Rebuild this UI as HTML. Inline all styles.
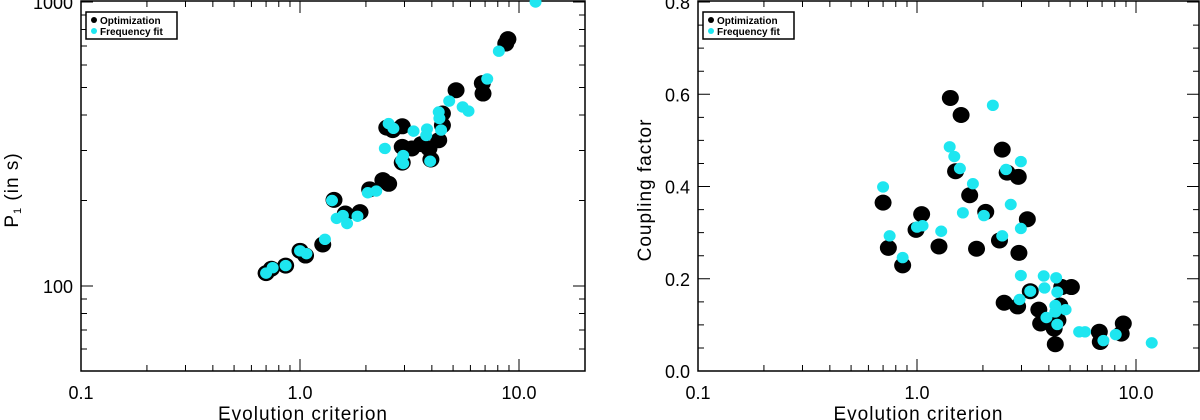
<!DOCTYPE html>
<html><head><meta charset="utf-8"><style>
body{margin:0;background:#fff;}
svg{display:block;font-family:"Liberation Sans",sans-serif;}
</style></head><body>
<svg id="c" width="1200" height="420" viewBox="0 0 1200 420"></svg>
<script>
// Left panel data
const leftOptX=[0.70,0.74,0.86,1.0,1.06,1.27,1.43,1.61,1.88,2.08,2.39,2.54,2.49,2.65,2.93,2.93,2.93,3.24,3.58,3.88,3.96,4.3,4.47,4.47,5.16,6.8,6.85,8.7,8.9];
const leftOptY=[111,115,118,133,128,140,201,180,182,219,236,229,361,354,365,309,272,305,316,305,279,326,368,405,489,518,476,714,740];
const leftFitX=[0.70,0.75,0.86,1.0,1.07,1.30,1.40,1.47,1.57,1.64,1.83,2.04,2.23,2.44,2.54,2.67,2.96,2.96,2.90,3.3,3.8,3.77,3.93,4.3,4.33,4.41,4.8,5.53,5.88,7.16,8.09,11.9];
const leftFitY=[111,116,118,133,130,146,200,173,177,166,176,213,216,305,373,359,288,270,277,351,357,339,275,410,389,354,448,427,413,536,671,1000];
// Right panel data
const rightOptX=[0.70,0.74,0.86,0.99,1.05,1.26,1.42,1.59,1.50,1.74,1.87,2.06,2.38,2.45,2.58,2.90,2.92,3.19,2.50,2.88,3.29,3.6,3.67,3.98,4.23,4.28,4.49,4.40,4.58,5.07,6.8,6.87,8.56,8.75];
const rightOptY=[0.365,0.267,0.229,0.306,0.340,0.270,0.592,0.555,0.433,0.381,0.265,0.345,0.283,0.480,0.430,0.421,0.256,0.329,0.148,0.140,0.173,0.133,0.103,0.106,0.092,0.058,0.142,0.110,0.182,0.182,0.085,0.063,0.081,0.103];
const rightFitX=[0.70,0.75,0.86,1.0,1.06,1.29,1.41,1.48,1.57,1.62,1.80,2.02,2.22,2.45,2.55,2.68,2.98,2.98,2.98,2.94,3.29,3.79,3.82,3.9,4.28,4.32,4.37,4.28,4.37,4.77,5.5,5.85,7.1,8.08,11.8];
const rightFitY=[0.399,0.293,0.246,0.312,0.315,0.303,0.486,0.465,0.439,0.343,0.406,0.337,0.576,0.293,0.437,0.361,0.454,0.309,0.207,0.155,0.173,0.206,0.180,0.116,0.142,0.202,0.171,0.128,0.101,0.133,0.085,0.085,0.066,0.079,0.061];
const xTickLabels=["0.1","1.0","10.0"];
const xTickVals=[0.1,1,10];
const leftYTickVals=[100,1000];
const leftYTickLabels=["100","1000"];
const rightYTickVals=[0,0.2,0.4,0.6,0.8];
const rightYTickLabels=["0.0","0.2","0.4","0.6","0.8"];

const NS="http://www.w3.org/2000/svg";
const svg=document.getElementById('c');
function mk(tag,attrs,parent){const e=document.createElementNS(NS,tag);for(const k in attrs)e.setAttribute(k,attrs[k]);(parent||svg).appendChild(e);return e;}
const L=Math.log10;
const CY='#1ee6f0';

function panel(px0,px1,py0,py1,xScale,yScale,yMinorVals,yMajorVals,yLabels,yTitle,name,optX,optY,fitX,fitY,yTitleX){
  const g=mk('g',{});
  
  
  const ax=mk('rect',{x:px0,y:py0,width:px1-px0,height:py1-py0,fill:'none',stroke:'#000','stroke-width':1.5},g);
  
  
  const xmin=[0.2,0.3,0.4,0.5,0.6,0.7,0.8,0.9,2,3,4,5,6,7,8,9];
  xmin.forEach(v=>{const x=xScale(v);
    const t=mk('path',{d:`M${x},${py1}v-6M${x},${py0}v6`,stroke:'#000','stroke-width':1},g);
    
    });
  xTickVals.forEach((v,i)=>{const x=xScale(v);
    const t=mk('path',{d:`M${x},${py1}v-12M${x},${py0}v12`,stroke:'#000','stroke-width':1},g);
    
    
    const tx=mk('text',{x:x,y:py1+28,'font-size':18,'text-anchor':'middle'},g);tx.textContent=xTickLabels[i];
    
    });
  yMinorVals.forEach(v=>{const y=yScale(v);
    const t=mk('path',{d:`M${px0},${y}h6M${px1},${y}h-6`,stroke:'#000','stroke-width':1},g);
    
    });
  yMajorVals.forEach((v,i)=>{const y=yScale(v);
    const t=mk('path',{d:`M${px0},${y}h12M${px1},${y}h-12`,stroke:'#000','stroke-width':1},g);
    
    
    const tx=mk('text',{x:px0-8,y:y+7,'font-size':18,'text-anchor':'end'},g);tx.textContent=yLabels[i];
    
    });
  const xt=mk('text',{x:(px0+px1)/2-30,y:420,'font-size':19,'text-anchor':'middle','letter-spacing':'1'},g);
  xt.textContent='Evolution criterion';
  
  
  const yt=mk('text',{x:0,y:0,'font-size':19,'text-anchor':'middle','letter-spacing':'1',transform:`translate(${yTitleX},190) rotate(-90)`},g);
  yt.innerHTML=yTitle;
  
  
  optX.forEach((v,i)=>{const c=mk('ellipse',{cx:xScale(v),cy:yScale(optY[i]),rx:8.5,ry:8,fill:'#000'},g);
    
    });
  fitX.forEach((v,i)=>{const c=mk('ellipse',{cx:xScale(v),cy:yScale(fitY[i]),rx:6,ry:5.7,fill:CY},g);
    
    });
  const lg=mk('g',{},g);
  
  
  const lx=px0+5;
  mk('rect',{x:lx,y:12,width:91,height:27,fill:'#fff',stroke:'#000','stroke-width':1.5},lg);
  const d1=mk('circle',{cx:lx+8,cy:20,r:3,fill:'#000'},lg);
  
  
  const t1=mk('text',{x:lx+14,y:24,'font-size':10,'font-weight':'bold'},lg);t1.textContent='Optimization';
  
  
  const d2=mk('circle',{cx:lx+8,cy:31,r:3,fill:CY},lg);
  
  
  const t2=mk('text',{x:lx+14,y:35,'font-size':10,'font-weight':'bold'},lg);t2.textContent='Frequency fit';
  
  
}

const LX0=81,LX1=585,TOP=2,BOT=371;
const lxS=v=>LX0+(L(v)+1)*219;
const lyS=v=>TOP+(3-L(v))*284;
const lyMinor=[60,70,80,90,200,300,400,500,600,700,800,900];
panel(LX0,LX1,1,BOT,lxS,lyS,lyMinor,leftYTickVals,leftYTickLabels,'P<tspan font-size="11" dy="3">1</tspan><tspan dy="-3"> (in s)</tspan>','left-panel-period',leftOptX,leftOptY,leftFitX,leftFitY,18);

const RX0=698,RX1=1199;
const rxS=v=>RX0+(L(v)+1)*219;
const ryS=v=>BOT-v/0.8*(BOT-TOP);
const ryMinor=[0.05,0.1,0.15,0.25,0.3,0.35,0.45,0.5,0.55,0.65,0.7,0.75];
panel(RX0,RX1,1,BOT,rxS,ryS,ryMinor,rightYTickVals,rightYTickLabels,'Coupling factor','right-panel-coupling',rightOptX,rightOptY,rightFitX,rightFitY,651);
</script>
</body></html>
